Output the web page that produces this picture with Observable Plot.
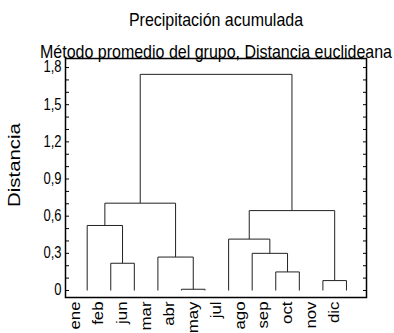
<!DOCTYPE html>
<html><head><meta charset="utf-8">
<script src="https://cdn.jsdelivr.net/npm/d3@7"></script>
<script src="https://cdn.jsdelivr.net/npm/@observablehq/plot@0.6"></script>
<style>body{margin:0;background:#fff} svg{display:block}</style>
</head><body><div id="chart"></div>
<script>
// Leaves in dendrogram order
const leaves = ["ene","feb","jun","mar","abr","may","jul","ago","sep","oct","nov","dic"];
// Merges (node ids: leaves 0..11, merge k -> node 12+k)
const mergeLeft   = [4, 10, 8, 1, 3, 7, 6, 0, 18, 19, 21];
const mergeRight  = [5, 11, 9, 2, 12, 14, 17, 15, 13, 16, 20];
const mergeHeight = [0.01, 0.08, 0.15, 0.22, 0.27, 0.30, 0.415, 0.525, 0.645, 0.705, 1.745];
const yLabelTicks = [0, 0.3, 0.6, 0.9, 1.2, 1.5, 1.8];
const yMinorTicks = [0,0.1,0.2,0.3,0.4,0.5,0.6,0.7,0.8,0.9,1.0,1.1,1.2,1.3,1.4,1.5,1.6,1.7,1.8];
const title = "Precipitación acumulada";
const subtitle = "Método promedio del grupo, Distancia euclideana";
const yLabel = "Distancia";

// Build node positions and segments
const pos = leaves.map((_, i) => i);
const hgt = leaves.map(() => 0);
const segs = [];
mergeHeight.forEach((H, k) => {
  const l = mergeLeft[k], r = mergeRight[k];
  segs.push({x1: pos[l], y1: hgt[l], x2: pos[l], y2: H});
  segs.push({x1: pos[r], y1: hgt[r], x2: pos[r], y2: H});
  segs.push({x1: pos[l], y1: H, x2: pos[r], y2: H});
  pos.push((pos[l] + pos[r]) / 2);
  hgt.push(H);
});

const fmt = d => d === 0 ? "0" : d.toFixed(1).replace(".", ",");

const chart = Plot.plot({
  width: 394, height: 333,
  marginLeft: 65, marginRight: 28, marginTop: 58, marginBottom: 36,
  style: {fontFamily: "'Liberation Sans', Arial, sans-serif", color: "#000", background: "#fff"},
  x: {domain: [-0.92, 11.85], axis: null},
  y: {domain: [-0.0565, 1.873], axis: null},
  marks: [
    Plot.link(segs, {x1: "x1", y1: "y1", x2: "x2", y2: "y2", stroke: "#222", strokeWidth: 1}),
    Plot.axisY(yMinorTicks, {anchor: "left", tickSize: -4, tickFormat: () => "", stroke: "#000"}),
    Plot.axisY(yMinorTicks, {anchor: "right", tickSize: -4, tickFormat: () => "", stroke: "#000"}),
    Plot.axisY(yLabelTicks, {anchor: "left", tickSize: 0, tickPadding: 4, tickFormat: fmt, fontSize: 13, fill: "#000"}),
    Plot.frame({stroke: "#000", strokeWidth: 1.5}),
    Plot.text(leaves, {x: (d, i) => i - 0.5, frameAnchor: "bottom", rotate: -90, textAnchor: "end", lineAnchor: "middle", dy: 4, fontSize: 14, fill: "#000"}),
    Plot.text([yLabel], {frameAnchor: "left", rotate: -90, textAnchor: "middle", lineAnchor: "middle", dx: -51, dy: -13, fontSize: 17, fill: "#000"}),
    Plot.text([title], {frameAnchor: "top", lineAnchor: "middle", dy: -39, fontSize: 16, fill: "#000"}),
    Plot.text([subtitle], {frameAnchor: "top", lineAnchor: "middle", dy: -7, fontSize: 16, fill: "#000"})
  ]
});
document.getElementById("chart").appendChild(chart);

// The reference's lettering is slightly stretched vertically; mimic that.
const stretch = 1.2;
const toDOM = m => new DOMMatrix([m.a, m.b, m.c, m.d, m.e, m.f]);
chart.querySelectorAll("text").forEach(el => {
  if (!el.textContent) return;
  const m = el.getCTM(), pm = el.parentNode.getCTM();
  if (!m || !pm) return;
  const M = toDOM(m), Pm = toDOM(pm);
  const x = parseFloat(el.getAttribute("x")) || 0, y = parseFloat(el.getAttribute("y")) || 0;
  const P = new DOMPoint(x, y).matrixTransform(M);
  const S = new DOMMatrix().translate(P.x, P.y).scale(1, stretch).translate(-P.x, -P.y);
  const L = Pm.inverse().multiply(S).multiply(M);
  el.setAttribute("transform", `matrix(${L.a},${L.b},${L.c},${L.d},${L.e},${L.f})`);
});
</script></body></html>
